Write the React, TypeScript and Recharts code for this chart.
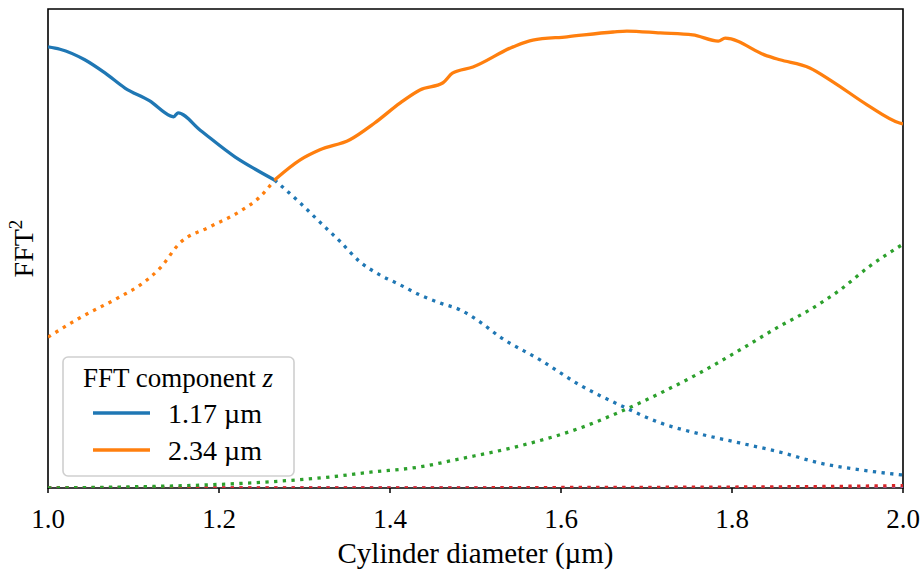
import React from "react";
import {
  LineChart,
  Line,
  XAxis,
  YAxis,
  Legend,
  ReferenceArea,
} from "recharts";

const FONT = "Liberation Serif";

// FFT^2 vs. cylinder diameter (µm); normalised so that the plot top is 1
const blueSolid = [
  { x: 1.0, y: 0.921 }, { x: 1.014, y: 0.916 }, { x: 1.043, y: 0.894 },
  { x: 1.067, y: 0.866 }, { x: 1.09, y: 0.835 }, { x: 1.119, y: 0.808 },
  { x: 1.143, y: 0.777 }, { x: 1.147, y: 0.775 }, { x: 1.152, y: 0.783 },
  { x: 1.178, y: 0.747 }, { x: 1.219, y: 0.691 }, { x: 1.242, y: 0.666 },
  { x: 1.265, y: 0.643 },
];

const blueDotted = [
  { x: 1.265, y: 0.643 }, { x: 1.295, y: 0.595 }, { x: 1.318, y: 0.555 },
  { x: 1.342, y: 0.514 }, { x: 1.365, y: 0.472 }, { x: 1.388, y: 0.445 },
  { x: 1.412, y: 0.424 }, { x: 1.435, y: 0.403 }, { x: 1.459, y: 0.386 },
  { x: 1.482, y: 0.372 }, { x: 1.505, y: 0.347 }, { x: 1.529, y: 0.315 },
  { x: 1.576, y: 0.267 }, { x: 1.622, y: 0.215 }, { x: 1.669, y: 0.173 },
  { x: 1.716, y: 0.136 }, { x: 1.762, y: 0.113 }, { x: 1.809, y: 0.094 },
  { x: 1.856, y: 0.075 }, { x: 1.903, y: 0.052 }, { x: 1.95, y: 0.038 },
  { x: 2.0, y: 0.027 },
];

const orangeDotted = [
  { x: 1.0, y: 0.315 }, { x: 1.037, y: 0.355 }, { x: 1.084, y: 0.399 },
  { x: 1.108, y: 0.424 }, { x: 1.131, y: 0.459 }, { x: 1.154, y: 0.511 },
  { x: 1.189, y: 0.545 }, { x: 1.225, y: 0.578 }, { x: 1.248, y: 0.608 },
  { x: 1.265, y: 0.643 },
];

const orangeSolid = [
  { x: 1.265, y: 0.643 }, { x: 1.295, y: 0.685 }, { x: 1.318, y: 0.706 },
  { x: 1.353, y: 0.727 }, { x: 1.382, y: 0.762 }, { x: 1.412, y: 0.804 },
  { x: 1.435, y: 0.831 }, { x: 1.462, y: 0.846 }, { x: 1.473, y: 0.866 },
  { x: 1.497, y: 0.879 }, { x: 1.544, y: 0.921 }, { x: 1.567, y: 0.935 },
  { x: 1.607, y: 0.942 }, { x: 1.661, y: 0.952 }, { x: 1.677, y: 0.954 },
  { x: 1.716, y: 0.95 }, { x: 1.754, y: 0.946 }, { x: 1.784, y: 0.933 },
  { x: 1.792, y: 0.939 }, { x: 1.841, y: 0.902 }, { x: 1.856, y: 0.894 },
  { x: 1.891, y: 0.877 }, { x: 1.918, y: 0.848 }, { x: 1.958, y: 0.8 },
  { x: 1.996, y: 0.762 }, { x: 2.0, y: 0.76 },
];

const greenDotted = [
  { x: 1.0, y: 0.0 }, { x: 1.084, y: 0.002 }, { x: 1.178, y: 0.006 },
  { x: 1.26, y: 0.013 }, { x: 1.33, y: 0.023 }, { x: 1.377, y: 0.033 },
  { x: 1.435, y: 0.044 }, { x: 1.482, y: 0.061 }, { x: 1.552, y: 0.088 },
  { x: 1.622, y: 0.125 }, { x: 1.669, y: 0.159 }, { x: 1.716, y: 0.198 },
  { x: 1.762, y: 0.24 }, { x: 1.809, y: 0.288 }, { x: 1.856, y: 0.338 },
  { x: 1.891, y: 0.372 }, { x: 1.926, y: 0.413 }, { x: 1.961, y: 0.463 },
  { x: 2.0, y: 0.509 },
];

const redDotted = [
  { x: 1.0, y: 0.0 }, { x: 1.4, y: 0.0 }, { x: 1.6, y: 0.001 },
  { x: 1.8, y: 0.002 }, { x: 1.9, y: 0.003 }, { x: 2.0, y: 0.005 },
];

const purpleDotted = [
  { x: 1.0, y: 0.0 }, { x: 1.5, y: 0.0 }, { x: 2.0, y: 0.0 },
];

const xTicks = [1.0, 1.2, 1.4, 1.6, 1.8, 2.0];

const LW = 3.3;
const DOTS = "3.3 5.4";

function YLabel({ viewBox }: any) {
  const cx = viewBox.x + viewBox.width * 0.68;
  const cy = viewBox.y + viewBox.height / 2;
  return (
    <text
      x={cx}
      y={cy}
      transform={`rotate(-90 ${cx} ${cy})`}
      textAnchor="middle"
      fontFamily={FONT}
      style={{ fontFamily: FONT }}
      fontSize={28}
      fill="#000"
    >
      FFT<tspan dy={-11} fontSize={19}>2</tspan>
    </text>
  );
}

function LegendBox({ payload }: any) {
  const items = (payload || []).filter((p: any) => p.type !== "none");
  return (
    <svg width={234} height={122} style={{ display: "block", fontFamily: FONT }}>
      <rect
        x={1}
        y={1}
        width={231}
        height={119}
        rx={5}
        fill="rgba(255,255,255,0.85)"
        stroke="#cfcfcf"
        strokeWidth={1.6}
      />
      <text x={116} y={31} textAnchor="middle" fontFamily={FONT} fontSize={27} fill="#000">
        FFT component <tspan fontStyle="italic">z</tspan>
      </text>
      {items.map((it: any, i: number) => (
        <g key={it.value}>
          <line x1={31} x2={88} y1={57 + i * 37} y2={57 + i * 37} stroke={it.color} strokeWidth={LW} />
          <text x={106} y={67 + i * 37} fontFamily={FONT} fontSize={28} fill="#000">
            {it.value}
          </text>
        </g>
      ))}
    </svg>
  );
}

export default function App() {
  return (
    <div style={{ position: "absolute", left: 0, top: 0, background: "#fff", fontFamily: FONT }}>
      <LineChart width={924} height={574} margin={{ top: 9, right: 21, left: 0, bottom: 0 }}>
        <XAxis
          type="number"
          dataKey="x"
          domain={[1, 2]}
          ticks={xTicks}
          tickFormatter={(v: number) => v.toFixed(1)}
          allowDataOverflow
          height={86}
          axisLine={false}
          tickLine={{ stroke: "#000", strokeWidth: 1.5 }}
          tickSize={5}
          tickMargin={16}
          tick={{ fill: "#000", fontFamily: FONT, fontSize: 27 }}
          label={{
            value: "Cylinder diameter (µm)",
            position: "insideBottom",
            offset: 11,
            fill: "#000",
            fontFamily: FONT,
            fontSize: 29,
          }}
        />
        <YAxis
          type="number"
          domain={[0, 1]}
          allowDataOverflow
          width={48}
          tick={false}
          tickLine={false}
          axisLine={false}
          label={<YLabel />}
        />
        <Legend
          layout="horizontal"
          verticalAlign="middle"
          align="center"
          wrapperStyle={{ position: "absolute", left: 62, top: 356, width: 234, height: 122 }}
          content={<LegendBox />}
        />
        <Line data={purpleDotted} dataKey="y" type="monotone" stroke="#9467bd" strokeWidth={LW} strokeDasharray={DOTS} dot={false} legendType="none" isAnimationActive={false} />
        <Line data={redDotted} dataKey="y" type="monotone" stroke="#d62728" strokeWidth={LW} strokeDasharray={DOTS} dot={false} legendType="none" isAnimationActive={false} />
        <Line data={greenDotted} dataKey="y" type="monotone" stroke="#2ca02c" strokeWidth={LW} strokeDasharray={DOTS} dot={false} legendType="none" isAnimationActive={false} />
        <Line data={blueDotted} dataKey="y" type="monotone" stroke="#1f77b4" strokeWidth={LW} strokeDasharray={DOTS} dot={false} legendType="none" isAnimationActive={false} />
        <Line data={orangeDotted} dataKey="y" type="monotone" stroke="#ff7f0e" strokeWidth={LW} strokeDasharray={DOTS} dot={false} legendType="none" isAnimationActive={false} />
        <Line data={blueSolid} dataKey="y" name="1.17 µm" type="monotone" stroke="#1f77b4" strokeWidth={LW} dot={false} isAnimationActive={false} />
        <Line data={orangeSolid} dataKey="y" name="2.34 µm" type="monotone" stroke="#ff7f0e" strokeWidth={LW} dot={false} isAnimationActive={false} />
        <ReferenceArea x1={1} x2={2} y1={0} y2={1} fill="none" stroke="#000" strokeWidth={1.6} ifOverflow="visible" />
      </LineChart>
    </div>
  );
}
